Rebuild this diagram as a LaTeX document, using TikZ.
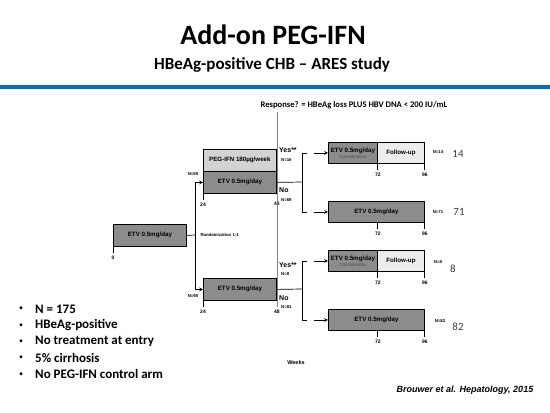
\documentclass[tikz,border=0pt]{standalone}
\usepackage{fontspec}
\setmainfont{Carlito}
\newfontfamily\arialfont{Liberation Sans}
\usetikzlibrary{arrows,positioning}

\definecolor{boxdark}{RGB}{140,140,140}
\definecolor{boxlight}{RGB}{211,211,211}
\definecolor{boxpale}{RGB}{237,237,237}
\definecolor{slideblue}{RGB}{0,112,192}
\definecolor{numgray}{RGB}{60,60,60}
\newcommand{\boxfont}{\arialfont\bfseries\fontsize{6.2}{7}\selectfont}
\newcommand{\tickfont}{\arialfont\bfseries\fontsize{5}{6}\selectfont}
\newcommand{\nfont}{\arialfont\bfseries\fontsize{4.3}{5}\selectfont}

\tikzset{
	armbox/.style={draw,line width=.8pt,inner sep=0pt,anchor=north west,minimum height=22pt,font=\boxfont},
	etvbox/.style={armbox,fill=boxdark},
	pegbox/.style={armbox,fill=boxlight},
	fupbox/.style={armbox,fill=boxpale},
	conn/.style={line width=.7pt},
	answer/.style={anchor=west,font=\arialfont\bfseries\fontsize{7}{8}\selectfont,inner sep=0pt},
	nlabel/.style={font=\nfont,inner sep=0pt},
	count/.style={font=\fontsize{11}{12}\selectfont,text=numgray,inner sep=0pt}
}

\begin{document}
\begin{tikzpicture}[x=1pt,y=-1pt,>=stealth]
	\useasboundingbox (0,0) rectangle (550,413);
	% heading
	\node[font=\bfseries\fontsize{28}{30}\selectfont] (title) at (273,35) {Add-on PEG-IFN};
	\node[font=\bfseries\fontsize{17}{19}\selectfont] (subtitle) at (272,65) {HBeAg-positive CHB -- ARES study};
	\draw[line width=4pt,slideblue] (0,87) -- (550,87);
	\node[font=\bfseries\fontsize{8.6}{9}\selectfont] (resp) at (354,105) {Response? = HBeAg loss PLUS HBV DNA < 200 IU/mL};

	% lead-in and randomisation
	\node[etvbox,minimum width=73pt] (etv0) at (113,224) {ETV 0.5mg/day};
	\draw[conn] (etv0.south west) -- ++(0,6) node[below,font=\tickfont] {0};
	\coordinate (rand) at (195,235);
	\node[anchor=west,font=\nfont] (randlab) at (197,235) {Randomization 1:1};
	\node[pegbox,minimum width=73pt] (pegA) at (203,149) {PEG-IFN 180µg/week};
	\node[etvbox,minimum width=73pt] (etvA) at (203,171) {ETV 0.5mg/day};
	\node[etvbox,minimum width=73pt] (etvB) at (203,278) {ETV 0.5mg/day};
	\draw[conn] (etv0.east) -- (rand);
	\draw[conn,->] (rand) |- (etvA.west);
	\draw[conn,->] (rand) |- (etvB.west);
	\node[nlabel] (nA) at (193,174) {N=85};
	\node[nlabel] (nB) at (193,296) {N=90};
	\draw[conn] (etvA.south west) -- ++(0,6) node[below,font=\tickfont] {24};
	\draw[conn] (etvB.south west) -- ++(0,6) node[below,font=\tickfont] {24};
	\node[below,font=\tickfont] at ([yshift=-5pt]etvA.south east) {48};
	\draw[gray,line width=.6pt] (etvA.east |- resp.south) -- (etvB.south east) -- ++(0,6) node[below,font=\tickfont,text=black] {48};

	% week 48 outcome, add-on arm
	\coordinate (brA) at (302,182);
	\node[etvbox,minimum width=49pt,minimum height=21pt,align=center] (consA) at (328,142) {ETV 0.5mg/day\\[-1pt]{\mdseries\fontsize{4.5}{5}\selectfont\color{black!70}Consolidation}};
	\node[fupbox,minimum width=47pt,minimum height=21pt] (fupA) at (377,142) {Follow-up};
	\node[etvbox,minimum width=96pt,minimum height=21pt] (etvC) at (328,201) {ETV 0.5mg/day};
	\draw[conn] (etvA.east) -- (brA);
	\draw[conn] (brA) |- ([xshift=-21pt]consA.west);
	\draw[conn] (brA) |- ([xshift=-21pt]etvC.west);
	\draw[conn,->] ([xshift=-14pt]consA.west) -- (consA.west);
	\draw[conn,->] ([xshift=-14pt]etvC.west) -- (etvC.west);
	\node[answer] (yesA) at (279,150) {Yes**};
	\node[nlabel,anchor=west] (nyesA) at (281,160) {N=16};
	\node[answer] (noA) at (279,190) {No};
	\node[nlabel,anchor=west] (nnoA) at (281,200) {N=69};
	\draw[conn] (consA.south east) -- ++(0,6) node[below,font=\tickfont] {72};
	\draw[conn] (fupA.south east) -- ++(0,6) node[below,font=\tickfont] {96};
	\draw[conn] (consA.east |- etvC.south) -- ++(0,6) node[below,font=\tickfont] {72};
	\draw[conn] (etvC.south east) -- ++(0,6) node[below,font=\tickfont] {96};
	\node[nlabel] (nC) at (438,152) {N=14};
	\node[count] (cC) at (458,154) {14};
	\node[nlabel] (nD) at (438,212) {N=71};
	\node[count] (cD) at (459,212) {71};

	% week 48 outcome, control arm
	\coordinate (brB) at (302,289);
	\node[etvbox,minimum width=49pt,minimum height=21pt,align=center] (consB) at (328,250) {ETV 0.5mg/day\\[-1pt]{\mdseries\fontsize{4.5}{5}\selectfont\color{black!70}Consolidation}};
	\node[fupbox,minimum width=47pt,minimum height=21pt] (fupB) at (377,250) {Follow-up};
	\node[etvbox,minimum width=96pt,minimum height=21pt] (etvD) at (328,309) {ETV 0.5mg/day};
	\draw[conn] (etvB.east) -- (brB);
	\draw[conn] (brB) |- ([xshift=-21pt]consB.west);
	\draw[conn] (brB) |- ([xshift=-21pt]etvD.west);
	\draw[conn,->] ([xshift=-14pt]consB.west) -- (consB.west);
	\draw[conn,->] ([xshift=-14pt]etvD.west) -- (etvD.west);
	\node[answer] (yesB) at (279,265) {Yes**};
	\node[nlabel,anchor=west] (nyesB) at (281,274) {N=8};
	\node[answer] (noB) at (279,298) {No};
	\node[nlabel,anchor=west] (nnoB) at (281,307) {N=81};
	\draw[conn] (consB.south east) -- ++(0,6) node[below,font=\tickfont] {72};
	\draw[conn] (fupB.south east) -- ++(0,6) node[below,font=\tickfont] {96};
	\draw[conn] (consB.east |- etvD.south) -- ++(0,6) node[below,font=\tickfont] {72};
	\draw[conn] (etvD.south east) -- ++(0,6) node[below,font=\tickfont] {96};
	\node[nlabel] (nE) at (438,262) {N=8};
	\node[count] (cE) at (453,269) {8};
	\node[nlabel] (nF) at (440,321) {N=82};
	\node[count] (cF) at (458,327) {82};

	\node[font=\arialfont\bfseries\fontsize{5.5}{6}\selectfont] (weeks) at (296,363) {Weeks};

	% key facts
	\foreach \t [count=\i from 0] in {N = 175,HBeAg-positive,No treatment at entry,5\% cirrhosis,No PEG-IFN control arm}{
		\node[font=\fontsize{8}{9}\selectfont,inner sep=0pt] (dot\i) at (21,309+16.3*\i) {•};
		\node[anchor=west,font=\bfseries\fontsize{13}{14}\selectfont,inner sep=0pt] (item\i) at (35,309+16.3*\i) {\t};
	}
	\node[font=\arialfont\bfseries\itshape\fontsize{9}{10}\selectfont] (cite) at (465,390) {Brouwer et al. Hepatology, 2015};
\end{tikzpicture}
\end{document}
